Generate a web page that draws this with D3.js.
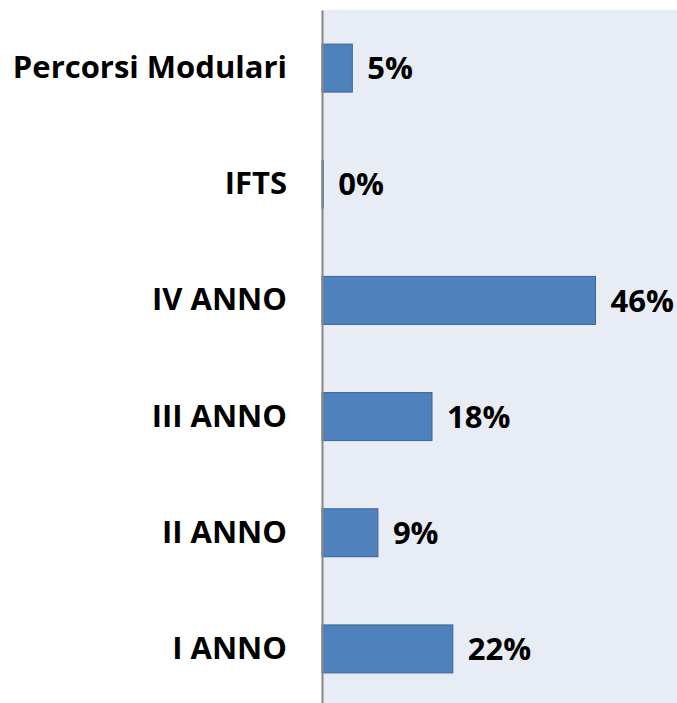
<!DOCTYPE html>
<html>
<head>
<meta charset="utf-8">
<script src="https://cdn.jsdelivr.net/npm/d3@7"></script>
<style>
  body { margin: 0; background: #fff; }
  text { font-family: "Open Sans", sans-serif; font-weight: bold; }
</style>
</head>
<body>
<div id="app"></div>
<script>
const categories = ['Percorsi Modulari', 'IFTS', 'IV ANNO', 'III ANNO', 'II ANNO', 'I ANNO']
const values = [0.051, 0.002, 0.46, 0.185, 0.094, 0.22]
const labels = ['5%', '0%', '46%', '18%', '9%', '22%']

const width = 677
const height = 703
const plotLeft = 322
const plotTop = 10
const plotBottom = 707

const svg = d3.select('#app').append('svg')
    .attr('width', width)
    .attr('height', height)

// plot area background
svg.append('rect')
    .attr('x', plotLeft).attr('y', plotTop)
    .attr('width', width - plotLeft).attr('height', plotBottom - plotTop)
    .attr('fill', '#e8ecf4')

const x = d3.scaleLinear().domain([0, 0.597]).range([plotLeft, width])
const y = d3.scaleBand().domain(categories).range([plotTop, plotBottom])
    .paddingInner(0.587).paddingOuter(0.2935)

const data = categories.map((c, i) => ({cat: c, value: values[i], label: labels[i]}))

svg.selectAll('rect.bar')
    .data(data).enter()
    .append('rect')
    .attr('class', 'bar')
    .attr('x', x(0))
    .attr('y', d => y(d.cat))
    .attr('width', d => x(d.value) - x(0))
    .attr('height', y.bandwidth())
    .attr('fill', '#4f81bd')
    .attr('stroke', '#3b6596')
    .attr('stroke-width', 1)

svg.selectAll('text.val')
    .data(data).enter()
    .append('text')
    .attr('class', 'val')
    .attr('x', d => x(d.value) + 15)
    .attr('y', d => y(d.cat) + y.bandwidth() / 2)
    .attr('dy', '0.36em')
    .attr('font-size', 31)
    .attr('fill', '#000')
    .text(d => d.label)

// category axis
const axis = svg.append('g')
    .attr('transform', `translate(${plotLeft},0)`)
    .call(d3.axisLeft(y).tickSize(0).tickPadding(35))
axis.select('.domain').attr('stroke', '#868686').attr('stroke-width', 2)
axis.selectAll('text')
    .attr('font-size', 31)
    .attr('fill', '#000')
    .style('font-family', '"Open Sans", sans-serif')
    .style('font-weight', 'bold')
</script>
</body>
</html>
